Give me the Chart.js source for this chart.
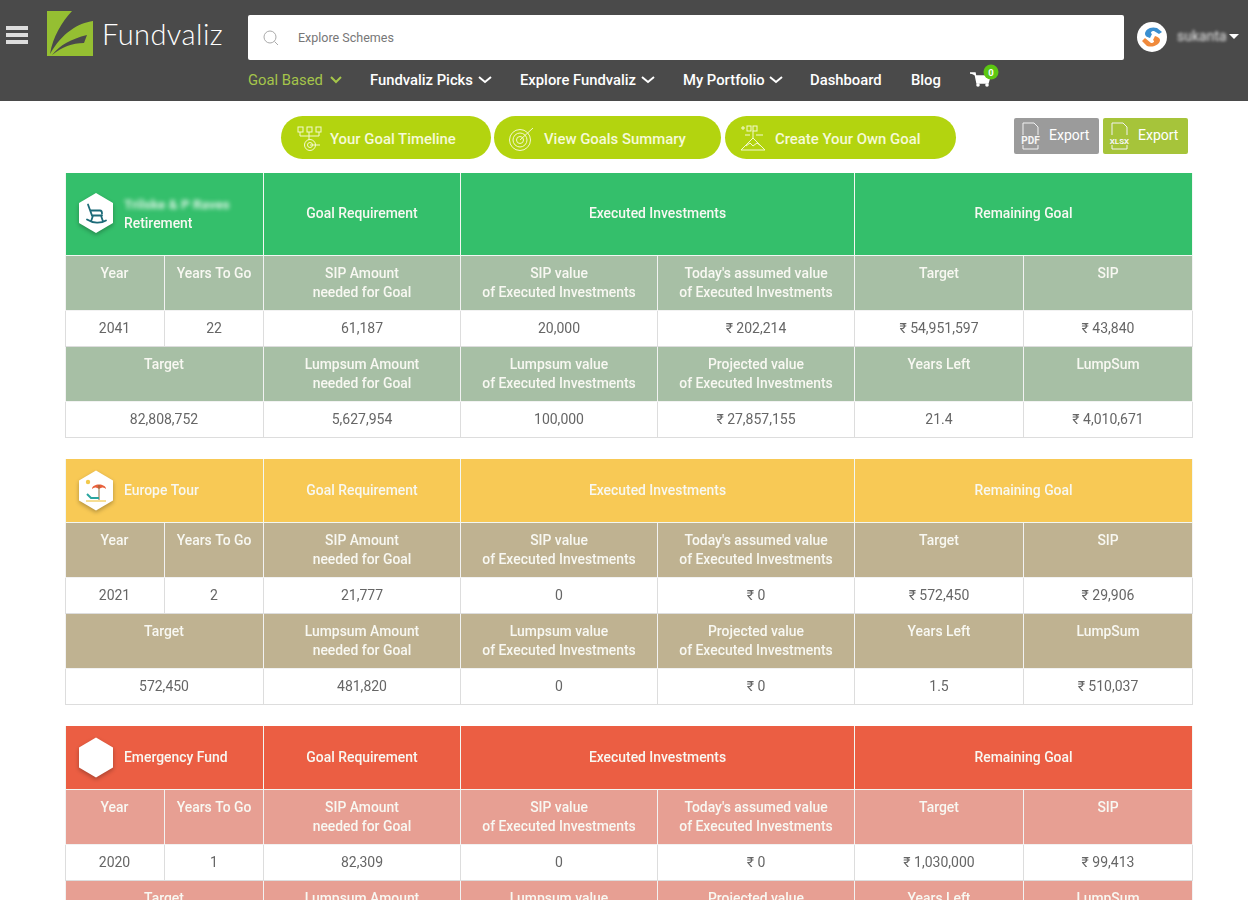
<!DOCTYPE html>
<html>
<head>
<meta charset="utf-8">
<title>Fundvaliz goals</title>
<script src="https://cdn.jsdelivr.net/npm/chart.js@4"></script>
<style>
	html, body { margin: 0; padding: 0; background: #fff; overflow: hidden; }
	body { width: 1248px; height: 900px; position: relative; font-family: Roboto, sans-serif; }
	.abs { position: absolute; white-space: nowrap; }
	#top { left: 0; top: 0; width: 1248px; height: 101px; background: #4a4a4a; }
	#search { left: 248px; top: 15px; width: 876px; height: 45px; background: #fff; border-radius: 2px; }
	.nav { top: 71px; color: #fff; font-size: 14.8px; line-height: 18px; font-weight: 500; }
	.btn { top: 116px; height: 43px; border-radius: 22px; background: #b3d40f; }
	.btnText { top: 130px; color: #f6fad8; font-size: 14.9px; line-height: 18px; font-weight: 500; }
	.exp { top: 118px; width: 85px; height: 36px; border-radius: 2px; }
	.expText { top: 127px; color: #fff; font-size: 14px; line-height: 17px; }
	#goals { position: absolute; left: 65px; top: 173px; }
</style>
</head>
<body>
<div class="abs" id="top"></div>
<svg class="abs" style="left:0;top:0" width="248" height="101">
	<rect x="6" y="26" width="22" height="4" fill="#ddd"/>
	<rect x="6" y="33" width="22" height="4" fill="#ddd"/>
	<rect x="6" y="40" width="22" height="4" fill="#ddd"/>
	<rect x="47" y="11" width="46" height="45" fill="#95bf32"/>
	<path d="M72 11H93V21C78 23 62 33 50 54C53 36 62 22 72 11Z" fill="#4a4a4a"/>
	<path d="M52 55C60 45 71 39 87 35L84 43C72 43 62 47 52 55Z" fill="#4a4a4a"/>
</svg>
<div class="abs" style="left:102px;top:14px;color:#fff;font:300 29px/40px Lato,sans-serif;letter-spacing:.45px">Fundvaliz</div>
<div class="abs" id="search"></div>
<svg class="abs" style="left:262px;top:29px" width="18" height="18"><circle cx="8" cy="8" r="6" fill="none" stroke="#aaa"/><path d="M12.5 12.5L16 16" stroke="#aaa"/></svg>
<div class="abs" style="left:298px;top:30px;font-size:12.5px;line-height:16px;color:#777">Explore Schemes</div>

<div class="abs nav" style="left:248px;color:#a5c54a;font-weight:400">Goal Based</div>
<div class="abs nav" style="left:370px">Fundvaliz Picks</div>
<div class="abs nav" style="left:520px">Explore Fundvaliz</div>
<div class="abs nav" style="left:683px">My Portfolio</div>
<div class="abs nav" style="left:810px">Dashboard</div>
<div class="abs nav" style="left:911px">Blog</div>
<svg class="abs" style="left:0;top:60px" width="1248" height="40">
	<g fill="none" stroke-width="2">
		<path d="M331 17L336 22L341 17" stroke="#a5c54a"/>
		<path d="M479 17L485 22L491 17" stroke="#fff"/>
		<path d="M642 17L648 22L654 17" stroke="#fff"/>
		<path d="M770 17L776 22L782 17" stroke="#fff"/>
	</g>
	<path d="M970 13H975L977 23H988L990 16H976" fill="#fff" stroke="#fff" stroke-width="1.5"/>
	<circle cx="978" cy="25" r="1.8" fill="#fff"/><circle cx="987" cy="25" r="1.8" fill="#fff"/>
	<circle cx="991" cy="12" r="7.5" fill="#5cc712"/>
	<text x="991" y="15.5" font-size="9.5" font-weight="700" fill="#fff" text-anchor="middle">0</text>
</svg>
<svg class="abs" style="left:1136px;top:21px" width="32" height="32">
	<circle cx="16" cy="16" r="15" fill="#fff"/>
	<path d="M21 7C14 5 9 9 9 13C9 15 11 16 14 17L16 13C14 12 15 10 18 10L23 13L26 11Z" fill="#3b8fd0"/>
	<path d="M11 25C18 27 24 23 24 19C24 17 22 16 19 15L17 19C19 20 18 22 15 22L9 17L6 20Z" fill="#f08a3c"/>
</svg>
<div class="abs" style="left:1177px;top:28px;color:#e6e6e6;font-size:14px;line-height:17px;filter:blur(1.6px)">sukanta</div>
<svg class="abs" style="left:1229px;top:34px" width="11" height="6"><path d="M0 0H10L5 5Z" fill="#fff"/></svg>

<div class="abs btn" style="left:281px;width:210px"></div>
<div class="abs btn" style="left:494px;width:227px"></div>
<div class="abs btn" style="left:725px;width:231px"></div>
<svg class="abs" style="left:0;top:110px" width="1248" height="50">
	<g fill="none" stroke="#f4f9d0" stroke-width="1">
		<rect x="298" y="17" width="5" height="5"/><rect x="307" y="17" width="5" height="5"/><rect x="316" y="17" width="5" height="5"/>
		<path d="M300 22V26H319V22M309 22V30"/>
		<circle cx="310" cy="35" r="5.5"/><circle cx="310" cy="35" r="2.5"/><path d="M310 35H320"/>
		<circle cx="520" cy="30" r="10.5"/><circle cx="520" cy="30" r="7"/><circle cx="520" cy="30" r="3.5"/><path d="M520 30L533 18"/>
		<path d="M741 40L753 28L765 40ZM746 36L750 33L753 36L757 33L761 36"/>
		<rect x="747" y="16" width="4" height="5"/><rect x="753" y="16" width="4" height="5"/><path d="M741 18H745M743 16V20M745 25H750M756 25H763M753 21V28"/>
	</g>
</svg>
<div class="abs btnText" style="left:330px">Your Goal Timeline</div>
<div class="abs btnText" style="left:544px">View Goals Summary</div>
<div class="abs btnText" style="left:775px">Create Your Own Goal</div>

<div class="abs exp" style="left:1014px;background:#9b9b9b"></div>
<div class="abs exp" style="left:1103px;background:#a6c43a"></div>
<svg class="abs" style="left:1014px;top:118px" width="180" height="36">
	<g fill="none" stroke="#f2f2f2"><path d="M9 17V5H20L24 9V17M9 27V31H24V27"/><path d="M98 17V5H109L113 9V17M98 27V31H113V27"/></g>
	<text x="16.5" y="26" font-size="10" font-weight="700" fill="#f6f6f6" text-anchor="middle">PDF</text>
	<text x="105.5" y="25.5" font-size="8" font-weight="700" fill="#f6f6f6" text-anchor="middle">XLSX</text>
</svg>
<div class="abs expText" style="left:1049px">Export</div>
<div class="abs expText" style="left:1138px">Export</div>

<canvas id="goals" width="1128" height="727"></canvas>

<script>
// table content, one list per column of the goal cards
var goalNames = ["Retirement", "Europe Tour", "Emergency Fund"];
var mainHeads = ["Goal Requirement", "Executed Investments", "Remaining Goal"];
var upperHeads = ["Year", "Years To Go", "SIP Amount\nneeded for Goal", "SIP value\nof Executed Investments", "Today's assumed value\nof Executed Investments", "Target", "SIP"];
var lowerHeads = ["Target", "Lumpsum Amount\nneeded for Goal", "Lumpsum value\nof Executed Investments", "Projected value\nof Executed Investments", "Years Left", "LumpSum"];

var goalYear = [2041, 2021, 2020];
var yearsToGo = [22, 2, 1];
var sipNeeded = [61187, 21777, 82309];
var sipExecuted = [20000, 0, 0];
var assumedValue = [202214, 0, 0];
var remainingTarget = [54951597, 572450, 1030000];
var remainingSip = [43840, 29906, 99413];

// third card runs off the bottom of the page, its lower values are not visible
var goalTarget = [82808752, 572450, null];
var lumpNeeded = [5627954, 481820, null];
var lumpExecuted = [100000, 0, null];
var projectedValue = [27857155, 0, null];
var yearsLeft = [21.4, 1.5, null];
var remainingLump = [4010671, 510037, null];

var headColors = ["#34bf6b", "#f8c955", "#eb5e43"];
var subColors = ["#a7bfa5", "#bfb291", "#e79f93"];
var columnWidths = [100, 99, 197, 197, 197, 169, 169];
var cardGap = 21;

function num(v) { return v === null ? "" : v.toLocaleString("en-US"); }
function rs(v) { return v === null ? "" : "\u20B9 " + num(v); }

// a row is a set of floating bars, spans say how many columns each cell covers
function makeRow(spans, texts, top, height, fill, line, kind) {
	var col = 0, from = 0, cells = [];
	spans.forEach(function(span, i) {
		var to = from;
		for (var k = 0; k < span; k++) { to += columnWidths[col++]; }
		cells.push({ x: [from, to], y: top + height / 2, text: texts[i], kind: kind });
		from = to;
	});
	return {
		data: cells,
		grouped: false,
		barThickness: height,
		backgroundColor: fill,
		borderColor: line,
		borderSkipped: false,
		inflateAmount: 0,
		borderWidth: function(ctx) {
			return { top: 0, right: 1, bottom: 1, left: ctx.dataIndex === 0 ? 1 : 0 };
		}
	};
}

var datasets = [];
var rowTop = 0;
goalNames.forEach(function(name, g) {
	var headHeight = g === 0 ? 83 : 64;
	var white = "#ffffff", grey = "#dddddd";
	datasets.push(makeRow([2, 1, 2, 2], [name].concat(mainHeads), rowTop, headHeight, headColors[g], "#f2f7f2", g === 0 ? "first" : "head"));
	rowTop += headHeight;
	datasets[datasets.length - 1].data[0].card = g;
	datasets.push(makeRow([1, 1, 1, 1, 1, 1, 1], upperHeads, rowTop, 55, subColors[g], "#f2f2f2", "sub"));
	rowTop += 55;
	datasets.push(makeRow([1, 1, 1, 1, 1, 1, 1], [String(goalYear[g]), String(yearsToGo[g]), num(sipNeeded[g]), num(sipExecuted[g]), rs(assumedValue[g]), rs(remainingTarget[g]), rs(remainingSip[g])], rowTop, 36, white, grey, "value"));
	rowTop += 36;
	datasets.push(makeRow([2, 1, 1, 1, 1, 1], lowerHeads, rowTop, 55, subColors[g], "#f2f2f2", "sub"));
	rowTop += 55;
	datasets.push(makeRow([2, 1, 1, 1, 1, 1], [num(goalTarget[g]), num(lumpNeeded[g]), num(lumpExecuted[g]), rs(projectedValue[g]), yearsLeft[g] === null ? "" : String(yearsLeft[g]), rs(remainingLump[g])], rowTop, 36, white, grey, "value"));
	rowTop += 36 + cardGap;
});

function drawHexagon(ctx, cx, cy) {
	ctx.save();
	ctx.shadowColor = "rgba(0,0,0,0.28)";
	ctx.shadowBlur = 4;
	ctx.shadowOffsetY = 2;
	ctx.fillStyle = "#fff";
	ctx.beginPath();
	ctx.moveTo(cx, cy - 20);
	ctx.lineTo(cx + 17, cy - 10);
	ctx.lineTo(cx + 17, cy + 10);
	ctx.lineTo(cx, cy + 20);
	ctx.lineTo(cx - 17, cy + 10);
	ctx.lineTo(cx - 17, cy - 10);
	ctx.closePath();
	ctx.fill();
	ctx.restore();
}

function drawChairIcon(ctx, cx, cy) {
	ctx.save();
	ctx.translate(cx - 11, cy - 11);
	ctx.strokeStyle = "#1c6a78";
	ctx.lineWidth = 1.8;
	ctx.lineCap = "round";
	ctx.stroke(new Path2D("M3 2L7 13H17M6 8H15C17 8 17 10 17 11M8 13L6 19M16 13L18 19M2 17C8 21 16 21 21 18"));
	ctx.restore();
}

function drawBeachIcon(ctx, cx, cy) {
	ctx.save();
	ctx.translate(cx - 12, cy - 12);
	ctx.fillStyle = "#f2c94c";
	ctx.beginPath(); ctx.arc(4, 3, 2.2, 0, Math.PI * 2); ctx.fill();
	ctx.fillStyle = "#e8613c";
	ctx.fill(new Path2D("M8 10C8 4 22 4 22 10C20 8 18 8 15 10C12 8 10 8 8 10Z"));
	ctx.strokeStyle = "#8a6a3c";
	ctx.lineWidth = 1;
	ctx.stroke(new Path2D("M15 6V21"));
	ctx.strokeStyle = "#2aa5a0";
	ctx.lineWidth = 2;
	ctx.stroke(new Path2D("M3 15L7 19H15"));
	ctx.strokeStyle = "#f2c94c";
	ctx.lineWidth = 1.2;
	ctx.stroke(new Path2D("M2 22H22"));
	ctx.restore();
}

// cell text and the hexagon badges, placed from the bar elements
var cellTextPlugin = {
	id: "cellText",
	afterDatasetsDraw: function(chart) {
		var ctx = chart.ctx;
		chart.getSortedVisibleDatasetMetas().forEach(function(meta) {
			var rows = chart.data.datasets[meta.index].data;
			meta.data.forEach(function(bar, i) {
				var cell = rows[i];
				var midX = (bar.x + bar.base) / 2 - 0.5;
				var top = bar.y - bar.height / 2;
				var headOffset = cell.kind === "first" ? 0.5 : 0.5;
				ctx.save();
				ctx.textBaseline = "middle";
				ctx.textAlign = "center";
				ctx.font = "500 13.9px Roboto, sans-serif";
				ctx.fillStyle = "#f8f8f2";
				if (cell.kind === "value") {
					ctx.font = "400 14px Roboto, sans-serif";
					ctx.fillStyle = "#666";
					ctx.fillText(cell.text, midX, bar.y);
				} else if (cell.kind === "sub") {
					cell.text.split("\n").forEach(function(line, n) {
						ctx.fillText(line, midX, top + 18.5 + n * 19);
					});
				} else if (i === 0) {
					var iconX = bar.base + 31;
					drawHexagon(ctx, iconX, cell.card === 0 ? bar.y - 1.5 : bar.y - 0.5);
					if (cell.card === 0) { drawChairIcon(ctx, iconX, bar.y - 1); }
					if (cell.card === 1) { drawBeachIcon(ctx, iconX, bar.y); }
					ctx.textAlign = "left";
					if (cell.card === 0) {
						ctx.fillText(cell.text, bar.base + 59, bar.y + 10.5);
						// account holder name is blurred out in the page
						ctx.filter = "blur(2px)";
						ctx.font = "700 13.5px Roboto, sans-serif";
						ctx.fillStyle = "#d8f2e2";
						ctx.fillText("Trilske & P Raves", bar.base + 59, bar.y - 8.5);
					} else {
						ctx.fillText(cell.text, bar.base + 59, bar.y + headOffset);
					}
				} else {
					ctx.fillText(cell.text, midX, bar.y + headOffset);
				}
				ctx.restore();
			});
		});
	}
};

new Chart(document.getElementById("goals"), {
	type: "bar",
	data: { datasets: datasets },
	plugins: [cellTextPlugin],
	options: {
		indexAxis: "y",
		responsive: false,
		animation: false,
		devicePixelRatio: 1,
		events: [],
		layout: { padding: 0 },
		scales: {
			x: { type: "linear", min: 0, max: 1128, display: false, offset: false },
			y: { type: "linear", min: 0, max: 727, reverse: true, display: false, offset: false }
		},
		plugins: {
			legend: { display: false },
			tooltip: { enabled: false }
		}
	}
});
</script>
</body>
</html>
